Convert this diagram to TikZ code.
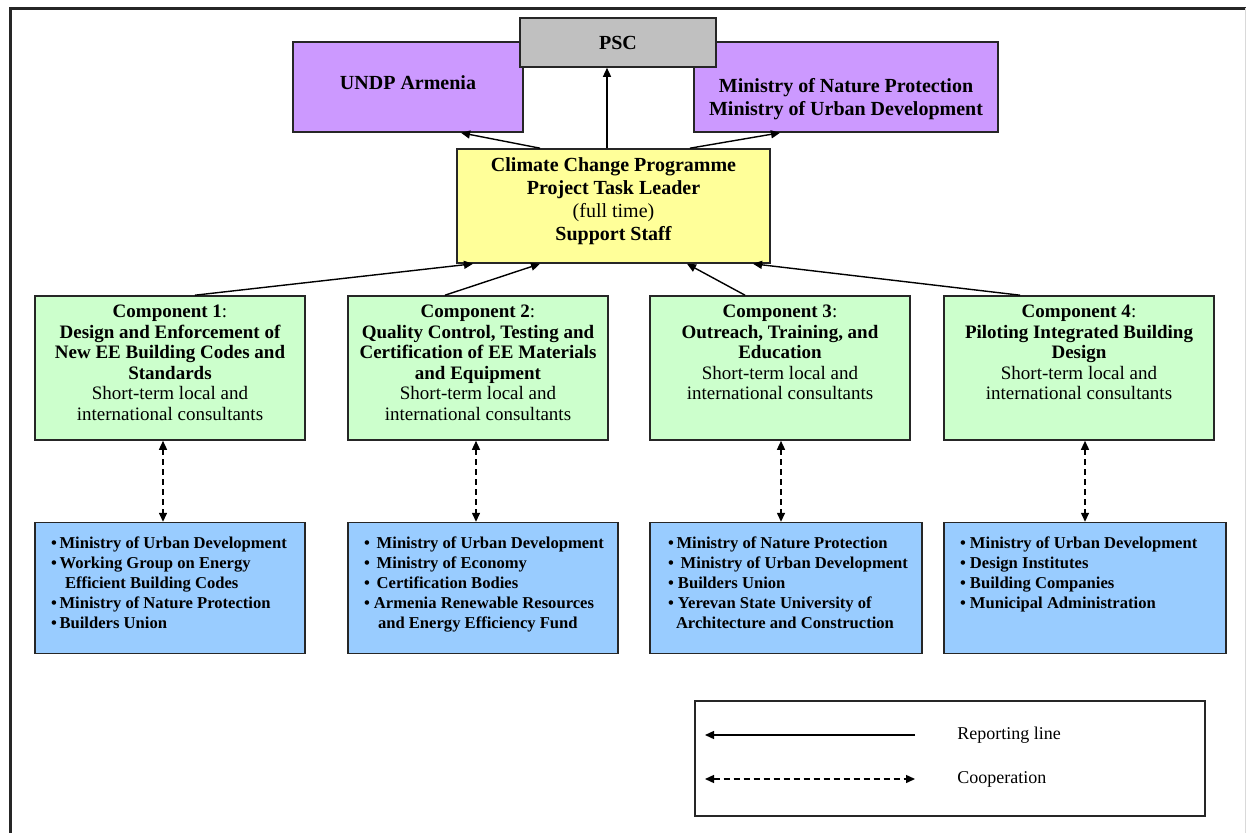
\documentclass[tikz,border=0pt]{standalone}
\usepackage{fontspec}
\setmainfont{Liberation Serif}
\usetikzlibrary{arrows.meta, positioning}
\definecolor{pscgray}{HTML}{C0C0C0}
\definecolor{partnerpurple}{HTML}{CC99FF}
\definecolor{leaderyellow}{HTML}{FFFF99}
\definecolor{compgreen}{HTML}{CCFFCC}
\definecolor{stakeblue}{HTML}{99CCFF}
\newcommand{\topbox}[3]{\parbox[c][#1][t]{#2}{#3}}
\tikzset{
  unit/.style={rectangle,draw=black!85,line width=0.8pt,inner sep=0pt},
  pscbox/.style={unit,fill=pscgray,minimum width=98pt,minimum height=24.5pt,font=\bfseries\fontsize{10}{11.5}\selectfont},
  partner/.style={unit,fill=partnerpurple,minimum height=45pt,font=\bfseries\fontsize{10}{11.5}\selectfont},
  leader/.style={unit,fill=leaderyellow,minimum width=156.5pt,minimum height=57pt,font=\bfseries\fontsize{10}{11.5}\selectfont},
  comp/.style={unit,fill=compgreen,minimum height=72pt,inner xsep=2pt,inner ysep=4.5pt,font=\fontsize{9.5}{10.3}\selectfont},
  stake/.style={unit,fill=stakeblue,minimum height=65.5pt,inner xsep=7pt,inner ysep=7pt,font=\bfseries\fontsize{8.3}{10}\selectfont},
  legendbox/.style={rectangle,draw=black!85,line width=0.8pt,minimum width=255pt,minimum height=57.5pt},
  keytext/.style={anchor=west,inner sep=0pt,font=\fontsize{9}{10}\selectfont},
  report/.style={-{Triangle[length=4.5pt,width=4pt]},line width=0.7pt},
  coop/.style={{Triangle[length=4.5pt,width=4pt]}-{Triangle[length=4.5pt,width=4pt]},line width=0.7pt,dash pattern=on 3pt off 2pt}
}

\begin{document}
\begin{tikzpicture}[x=0.5pt,y=-0.5pt]
\useasboundingbox (0,0) rectangle (1246,833);
% page frame
\draw[black!85,line width=1.5pt] (10.5,833) -- (10.5,8.5) -- (1246,8.5);
\draw[gray!30,line width=0.5pt] (1245,8.5) -- (1245,833);

% steering level
\node[partner,minimum width=115pt] (undp) at (408,87) {\topbox{45pt}{115pt}{\centering\vspace*{17pt}UNDP Armenia}};
\node[partner,minimum width=152pt] (mnp) at (846,87) {\topbox{45pt}{152pt}{\centering\vspace*{18pt}Ministry of Nature Protection\\Ministry of Urban Development}};
\node[pscbox] (psc) at (618,42.5) {PSC};

% project management
\node[leader] (lead) at (613.5,206) {\topbox{57pt}{156.5pt}{\centering\vspace*{4.5pt}Climate Change Programme\\Project Task Leader\\{\mdseries (full time)}\\Support Staff}};

% components
\node[comp,minimum width=135pt] (c1) at (170,368) {\topbox{63pt}{131pt}{\centering
  \textbf{Component 1}:\\\textbf{Design and Enforcement of\\New EE Building Codes and\\Standards}\\Short-term local and\\international consultants}};
\node[comp,minimum width=130pt] (c2) at (478,368) {\topbox{63pt}{126pt}{\centering
  \textbf{Component 2}:\\\textbf{Quality Control, Testing and\\Certification of EE Materials\\and Equipment}\\Short-term local and\\international consultants}};
\node[comp,minimum width=130pt] (c3) at (780,368) {\topbox{63pt}{126pt}{\centering
  \textbf{Component 3}:\\\textbf{Outreach, Training, and\\Education}\\Short-term local and\\international consultants}};
\node[comp,minimum width=135pt] (c4) at (1079,368) {\topbox{63pt}{131pt}{\centering
  \textbf{Component 4}:\\\textbf{Piloting Integrated Building\\Design}\\Short-term local and\\international consultants}};

% partners per component
\node[stake,minimum width=135pt,below=40.5pt of c1.south west,anchor=north west] (b1) {\topbox{51.5pt}{121pt}{\raggedright
  \hspace*{1pt}\textbullet\,Ministry of Urban Development\\
  \hspace*{1pt}\textbullet\,Working Group on Energy\\
  \hspace*{8pt}Efficient Building Codes\\
  \hspace*{1pt}\textbullet\,Ministry of Nature Protection\\
  \hspace*{1pt}\textbullet\,Builders Union}};
\node[stake,minimum width=135pt,below=40.5pt of c2.south west,anchor=north west] (b2) {\topbox{51.5pt}{121pt}{\raggedright
  \hspace*{1pt}\textbullet\ \,Ministry of Urban Development\\
  \hspace*{1pt}\textbullet\ \,Ministry of Economy\\
  \hspace*{1pt}\textbullet\ \,Certification Bodies\\
  \hspace*{1pt}\textbullet\ Armenia Renewable Resources\\
  \hspace*{8pt}and Energy Efficiency Fund}};
\node[stake,minimum width=136pt,below=40.5pt of c3.south west,anchor=north west] (b3) {\topbox{51.5pt}{122pt}{\raggedright
  \hspace*{2pt}\textbullet\,Ministry of Nature Protection\\
  \hspace*{2pt}\textbullet\ \,Ministry of Urban Development\\
  \hspace*{2pt}\textbullet\ Builders Union\\
  \hspace*{2pt}\textbullet\ Yerevan State University of\\
  \hspace*{6pt}Architecture and Construction}};
\node[stake,minimum width=141pt,below=40.5pt of c4.south west,anchor=north west] (b4) {\topbox{51.5pt}{127pt}{\raggedright
  \hspace*{1pt}\textbullet\ Ministry of Urban Development\\
  \hspace*{1pt}\textbullet\ Design Institutes\\
  \hspace*{1pt}\textbullet\ Building Companies\\
  \hspace*{1pt}\textbullet\ Municipal Administration}};

% reporting lines
\draw[report] ([xshift=-3.25pt]lead.north) -- ([xshift=-5.5pt]psc.south);
\draw[report] ([xshift=-36.75pt]lead.north) -- ([xshift=26.5pt]undp.south);
\draw[report] ([xshift=38.25pt]lead.north) -- ([xshift=-33pt]mnp.south);
\draw[report] ([xshift=12.5pt]c1.north) -- ([xshift=-70.25pt]lead.south);
\draw[report] ([xshift=-16.5pt]c2.north) -- ([xshift=-36.75pt]lead.south);
\draw[report] ([xshift=-17.5pt]c3.north) -- ([xshift=36.75pt]lead.south);
\draw[report] ([xshift=-29.5pt]c4.north) -- ([xshift=69.75pt]lead.south);

% cooperation
\draw[coop] ([xshift=-3.5pt]c1.south) -- ([xshift=-3.5pt]c1.south |- b1.north);
\draw[coop] ([xshift=-1pt]c2.south) -- ([xshift=-1pt]c2.south |- b2.north);
\draw[coop] ([xshift=0.5pt]c3.south) -- ([xshift=0.5pt]c3.south |- b3.north);
\draw[coop] ([xshift=3pt]c4.south) -- ([xshift=3pt]c4.south |- b4.north);

% legend
\node[legendbox] (legend) at (950,758.5) {};
\coordinate (rep-from) at (915,735);
\coordinate (rep-to) at (705,735);
\coordinate (coop-from) at (705,779);
\coordinate (coop-to) at (915,779);
\draw[report] (rep-from) -- (rep-to);
\draw[coop] (coop-from) -- (coop-to);
\node[keytext] (rep-label) at (957,735) {Reporting line};
\node[keytext] (coop-label) at (957,779) {Cooperation};
\end{tikzpicture}
\end{document}
